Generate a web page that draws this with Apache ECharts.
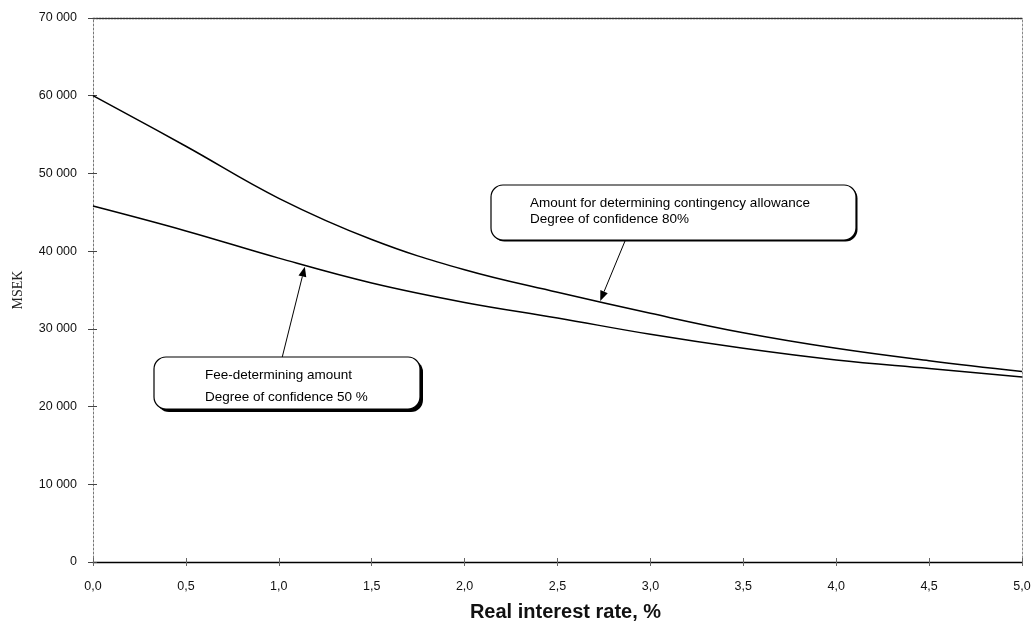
<!DOCTYPE html>
<html>
<head>
<meta charset="utf-8">
<script src="https://cdn.jsdelivr.net/npm/echarts@6/dist/echarts.min.js"></script>
<style>
html,body{margin:0;padding:0;background:#fff;}
#chart{width:1034px;height:628px;}
</style>
</head>
<body>
<div id="chart"></div>
<script>
// Data
var rates = [0.0, 0.5, 1.0, 1.5, 2.0, 2.5, 3.0, 3.5, 4.0, 4.5, 5.0];
var contingencyAmount = [60000, 53500, 46800, 41500, 37600, 34700, 32000, 29500, 27500, 25900, 24500]; // 80 %
var feeAmount = [45800, 42600, 39100, 35900, 33400, 31400, 29300, 27500, 26000, 24900, 23800];         // 50 %
var xTickLabels = ['0,0','0,5','1,0','1,5','2,0','2,5','3,0','3,5','4,0','4,5','5,0'];
var yTickValues = [0, 10000, 20000, 30000, 40000, 50000, 60000, 70000];
var calloutUpperLines = ['Amount for determining contingency allowance', 'Degree of confidence 80%'];
var calloutLowerLines = ['Fee-determining amount', 'Degree of confidence 50 %'];
var arrowUpperTip = [2.73, 33600];
var arrowLowerTip = [1.14, 38000];

function pairs(xs, ys){ return xs.map(function(x,i){ return [x, ys[i]]; }); }

var chart = echarts.init(document.getElementById('chart'), null, {renderer:'canvas'});
var fontFam = '"Liberation Sans", Arial, sans-serif';

var option = {
  animation: false,
  backgroundColor: '#fff',
  grid: {left: 93, right: 12, top: 18, bottom: 66, show: false, containLabel: false, outerBoundsMode: 'none'},
  xAxis: [{
    type: 'value', min: 0, max: 5, interval: 0.5,
    name: 'Real interest rate, %', nameLocation: 'middle', nameGap: 40,
    nameTextStyle: {fontFamily: fontFam, fontSize: 20, fontWeight: 'bold', color: '#111', padding:[0,0,0,16]},
    axisLine: {show: true, onZero: false, lineStyle: {color: '#000', width: 1.4}},
    axisTick: {show: true, length: 4, lineStyle: {color: '#666'}},
    axisLabel: {margin: 18, fontFamily: fontFam, fontSize: 12.5, color: '#111',
      formatter: function(v){ var i = Math.round(v/0.5); return xTickLabels[i] || ''; }},
    splitLine: {show: false}
  },{
    type: 'value', min: 0, max: 5, position: 'top',
    axisLine: {show: true, onZero: false, lineStyle: {color: '#333', width: 1.3, type: [2, 1]}},
    axisTick: {show: false}, axisLabel: {show: false}, splitLine: {show: false}
  },{
    type: 'value', min: 0, max: 5, interval: 0.5, position: 'bottom',
    axisLine: {show: false, onZero: false},
    axisTick: {show: true, inside: true, length: 4, lineStyle: {color: '#666'}},
    axisLabel: {show: false}, splitLine: {show: false}
  }],
  yAxis: [{
    type: 'value', min: 0, max: 70000, interval: 10000,
    name: 'MSEK', nameLocation: 'middle', nameGap: 68, nameRotate: 90,
    nameTextStyle: {fontFamily: '"Liberation Serif", "DejaVu Serif", serif', fontSize: 14, color: '#222'},
    axisLine: {show: true, onZero: false, lineStyle: {color: '#777', width: 1, type: [2, 2]}},
    axisTick: {show: true, length: 5, lineStyle: {color: '#444'}},
    axisLabel: {margin: 16, fontFamily: fontFam, fontSize: 12.5, color: '#111',
      formatter: function(v){ return v === 0 ? '0' : String(v).replace(/\B(?=(\d{3})+(?!\d))/g, ' '); }},
    splitLine: {show: false}
  },{
    type: 'value', min: 0, max: 70000, interval: 10000, position: 'right',
    axisLine: {show: true, onZero: false, lineStyle: {color: '#888', width: 1, type: [2, 2]}},
    axisTick: {show: false}, axisLabel: {show: false}, splitLine: {show: false}
  },{
    type: 'value', min: 0, max: 70000, interval: 10000, position: 'left',
    axisLine: {show: false, onZero: false},
    axisTick: {show: true, inside: true, length: 4, lineStyle: {color: '#444'}},
    axisLabel: {show: false}, splitLine: {show: false}
  }],
  series: [{
    name: 'Amount for determining contingency allowance', type: 'line', smooth: 0.4,
    xAxisIndex: 0, yAxisIndex: 0,
    data: pairs(rates, contingencyAmount), showSymbol: false,
    lineStyle: {color: '#000', width: 1.5}
  },{
    name: 'Fee-determining amount', type: 'line', smooth: 0.4,
    xAxisIndex: 0, yAxisIndex: 0,
    data: pairs(rates, feeAmount), showSymbol: false,
    lineStyle: {color: '#000', width: 1.5}
  }]
};
chart.setOption(option);

function arrowGraphics(tail, tip){
  var dx = tip[0]-tail[0], dy = tip[1]-tail[1];
  var len = Math.sqrt(dx*dx+dy*dy), ux = dx/len, uy = dy/len;
  var hl = 10, hw = 4;
  var bx = tip[0]-ux*hl, by = tip[1]-uy*hl;
  return [{
    type: 'line', shape: {x1: tail[0], y1: tail[1], x2: bx, y2: by},
    style: {stroke: '#000', lineWidth: 1}, z: 100
  },{
    type: 'polygon',
    shape: {points: [[tip[0], tip[1]], [bx - uy*hw, by + ux*hw], [bx + uy*hw, by - ux*hw]]},
    style: {fill: '#000'}, z: 100
  }];
}

function callout(x, y, w, h, lines, textX, textY0, lineGap, shadow){
  var g = [];
  if (shadow) {
    g.push({type:'rect', shape:{x:x+shadow, y:y+shadow, width:w, height:h, r:12}, style:{fill:'#000'}, z:101});
  }
  g.push({type:'rect', shape:{x:x, y:y, width:w, height:h, r:12}, style:{fill:'#fff', stroke:'#000', lineWidth:1.2}, z:102});
  lines.forEach(function(t,i){
    g.push({type:'text', x:textX, y:textY0+i*lineGap, style:{text:t, fill:'#000', font:'13.5px ' + fontFam, textVerticalAlign:'middle'}, z:103});
  });
  return g;
}

var upTip = chart.convertToPixel({xAxisIndex:0, yAxisIndex:0}, arrowUpperTip);
var loTip = chart.convertToPixel({xAxisIndex:0, yAxisIndex:0}, arrowLowerTip);

var graphics = []
  .concat(arrowGraphics([625, 241], upTip))
  .concat(arrowGraphics([282, 358], loTip))
  .concat(callout(491, 185, 365, 55, calloutUpperLines, 530, 203, 16, 1.5))
  .concat(callout(154, 357, 266, 52, calloutLowerLines, 205, 375, 22, 3));

chart.setOption({graphic: graphics});
</script>
</body>
</html>
